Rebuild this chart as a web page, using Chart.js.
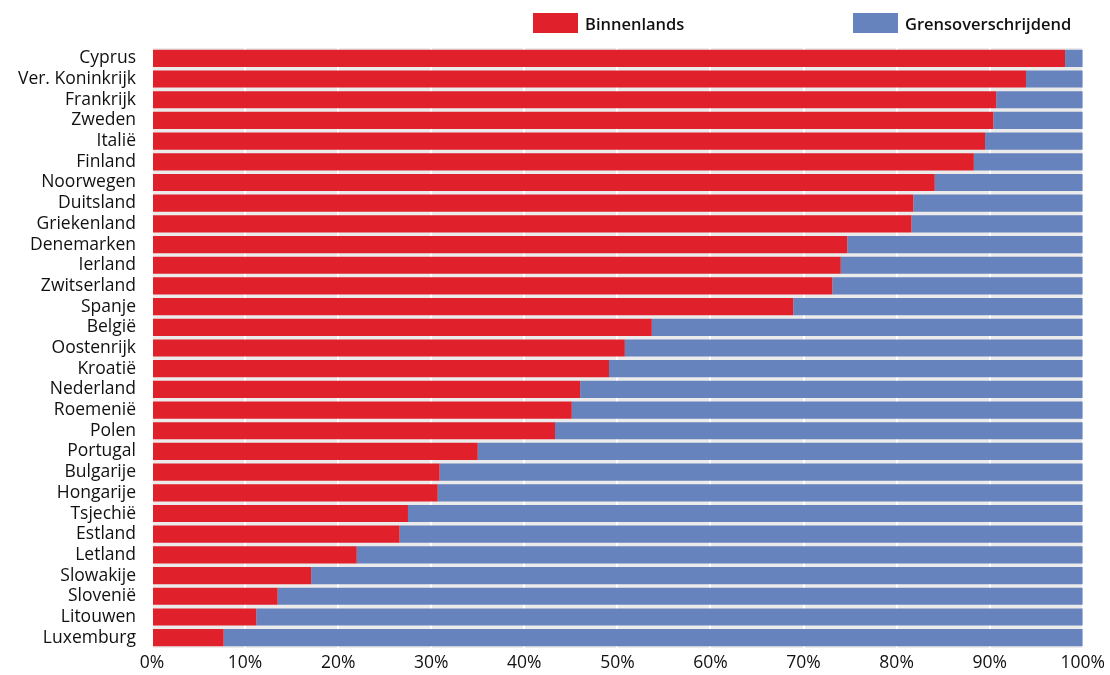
<!DOCTYPE html>
<html>
<head>
<meta charset="utf-8">
<script src="https://cdn.jsdelivr.net/npm/chart.js@4"></script>
<style>
  html, body { margin: 0; padding: 0; background: #fff; }
  #wrap { position: relative; width: 1110px; height: 675px; }
  .legend { position: absolute; top: 13px; height: 20px; font: 600 16.5px "Open Sans", sans-serif; color: #111; display: flex; align-items: center; }
  .legend span.box { display: inline-block; width: 45px; height: 20px; margin-right: 7px; }
</style>
</head>
<body>
<div id="wrap">
  <canvas id="chart" width="1110" height="675"></canvas>
  <div class="legend" style="left:533px"><span class="box" style="background:#e0202a"></span>Binnenlands</div>
  <div class="legend" style="left:853px"><span class="box" style="background:#6683bd"></span>Grensoverschrijdend</div>
</div>
<script>
const countries = ['Cyprus', 'Ver. Koninkrijk', 'Frankrijk', 'Zweden', 'Italië', 'Finland', 'Noorwegen',
  'Duitsland', 'Griekenland', 'Denemarken', 'Ierland', 'Zwitserland', 'Spanje', 'België', 'Oostenrijk',
  'Kroatië', 'Nederland', 'Roemenië', 'Polen', 'Portugal', 'Bulgarije', 'Hongarije', 'Tsjechië',
  'Estland', 'Letland', 'Slowakije', 'Slovenië', 'Litouwen', 'Luxemburg'];

// share of domestic (binnenlands) in %
const binnenlands = [98.1, 93.9, 90.7, 90.4, 89.5, 88.3, 84.1, 81.8, 81.6, 74.7, 74.0, 73.1, 68.9, 53.7, 50.8,
  49.1, 46.0, 45.1, 43.3, 35.0, 30.9, 30.7, 27.5, 26.6, 22.0, 17.1, 13.5, 11.2, 7.7];
const grensoverschrijdend = binnenlands.map(v => +(100 - v).toFixed(1));

const xTicks = [0, 10, 20, 30, 40, 50, 60, 70, 80, 90, 100];

const plotBg = {
  id: 'plotBg',
  beforeDraw(chart) {
    const { ctx, chartArea: a } = chart;
    ctx.save();
    ctx.fillStyle = '#ebebeb';
    ctx.fillRect(a.left, a.top, a.right - a.left, a.bottom - a.top);
    ctx.restore();
  }
};

Chart.defaults.font.family = '"Open Sans", sans-serif';
Chart.defaults.color = '#111';

new Chart(document.getElementById('chart'), {
  type: 'bar',
  data: {
    labels: countries,
    datasets: [
      { label: 'Binnenlands', data: binnenlands, backgroundColor: '#e0202a' },
      { label: 'Grensoverschrijdend', data: grensoverschrijdend, backgroundColor: '#6683bd' }
    ]
  },
  options: {
    indexAxis: 'y',
    responsive: false,
    animation: false,
    layout: { padding: { top: 48, right: 27, left: 0, bottom: 0 } },
    datasets: { bar: { categoryPercentage: 1, barPercentage: 0.83 } },
    scales: {
      x: {
        stacked: true,
        min: 0, max: 100,
        afterBuildTicks: axis => { axis.ticks = xTicks.map(v => ({ value: v })); },
        ticks: { callback: v => v + '%', font: { size: 17.5 }, padding: 5, maxRotation: 0 },
        grid: { color: '#fff', lineWidth: 2, drawTicks: false },
        border: { display: false },
        afterFit: axis => { axis.height = 27; }
      },
      y: {
        stacked: true,
        ticks: { font: { size: 17.5 }, padding: 16, autoSkip: false },
        grid: { display: false, drawTicks: false },
        border: { display: false },
        afterFit: axis => { axis.width = 152; }
      }
    },
    plugins: { legend: { display: false }, tooltip: { enabled: false } }
  },
  plugins: [plotBg]
});
</script>
</body>
</html>
